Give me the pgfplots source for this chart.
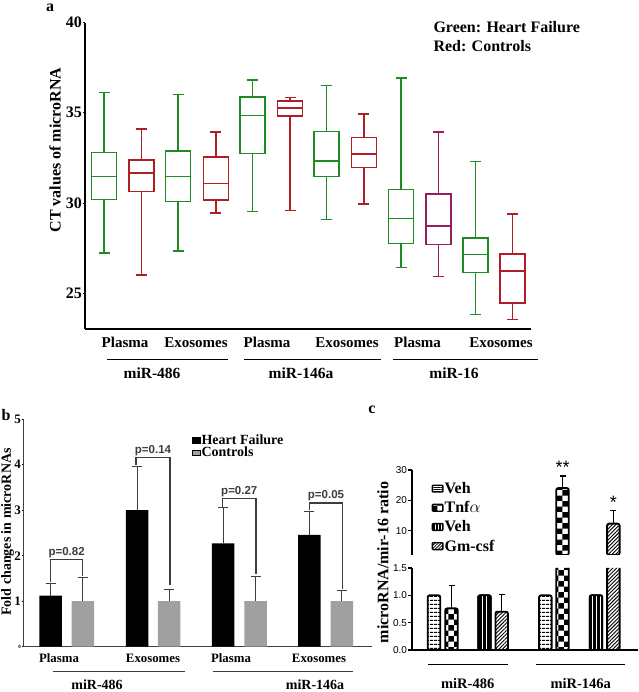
\documentclass[border=0pt]{standalone}
\usepackage{pgfplots}
\pgfplotsset{compat=1.18}
\usepgfplotslibrary{statistics}
\usetikzlibrary{patterns,patterns.meta}
\usepackage{fontspec}
\setmainfont{Liberation Serif}
\newfontfamily\arial{Liberation Sans}
\definecolor{hfgreen}{RGB}{30,140,35}
\definecolor{ctred}{RGB}{175,30,35}
\definecolor{ctpurple}{RGB}{150,30,95}
\definecolor{ctgray}{RGB}{160,160,160}
\definecolor{brk}{RGB}{60,60,60}
\newcommand{\fs}[1]{\fontsize{#1}{#1}\selectfont}
\newcommand{\bx}[7]{\addplot[draw=#1, line width=1.5pt, solid, boxplot prepared={draw position=#2, lower whisker=#3, lower quartile=#4, median=#5, upper quartile=#6, upper whisker=#7}] coordinates {};}
\begin{document}
\begin{tikzpicture}
\useasboundingbox (0,0) rectangle (638pt,692pt);

% ---------------- Panel a ----------------
\begin{axis}[
  at={(85pt,363pt)}, anchor=south west,
  x=1pt, y=18.02pt, xmin=85, xmax=531, ymin=23, ymax=40,
  axis lines*=left, axis line style={line width=1.2pt, black},
  xtick=\empty, ytick={25,30,35,40},
  tick align=outside, major tick length=2pt, tick style={black, line width=0.5pt},
  yticklabel style={font=\fs{16}\bfseries, inner sep=1pt},
  /pgf/number format/assume math mode=true,
  boxplot/draw direction=y, boxplot/box extend=25, boxplot/whisker extend=11,
  boxplot/every box/.style={line width=1.5pt},
  boxplot/every whisker/.style={line width=1.5pt},
  boxplot/every median/.style={line width=1.5pt},
  clip=false,
]
\bx{hfgreen}{104.2}{27.23}{30.19}{31.47}{32.80}{36.12}
\bx{ctred}{141.5}{26.00}{30.63}{31.67}{32.37}{34.11}
\bx{hfgreen}{178.2}{27.33}{30.08}{31.45}{32.87}{36.00}
\bx{ctred}{215.8}{29.45}{30.17}{31.08}{32.55}{33.94}
\bx{hfgreen}{252.7}{29.53}{32.74}{34.86}{35.88}{36.82}
\bx{ctred}{290.0}{29.58}{34.83}{35.25}{35.66}{35.86}
\bx{hfgreen}{326.7}{29.08}{31.46}{32.33}{33.96}{36.51}
\bx{ctred}{363.8}{29.93}{31.96}{32.70}{33.64}{34.92}
\bx{hfgreen}{401.0}{26.42}{27.75}{29.12}{30.74}{36.93}
\bx{ctpurple}{438.3}{25.90}{27.70}{28.71}{30.49}{33.94}
\bx{hfgreen}{475.3}{23.80}{26.14}{27.12}{28.05}{32.30}
\bx{ctred}{512.7}{23.54}{24.44}{26.22}{27.16}{29.38}
\end{axis}

% ---------------- Panel b ----------------
\begin{axis}[
  at={(23pt,45.3pt)}, anchor=south west,
  x=1pt, y=45.5pt, xmin=23, xmax=372, ymin=0, ymax=5,
  axis lines*=left, axis line style={line width=0.9pt, black!75},
  xtick=\empty, ytick={0,1,2,3,4,5}, yticklabels=\empty,
  tick align=outside, major tick length=1.5pt, tick style={black, line width=0.5pt},
  clip=false,
  legend image code/.code={\fill[#1] (0pt,-2.6pt) rectangle (8pt,2.6pt);},
  legend cell align=left,
  legend style={at={(axis cs:192,4.69)}, anchor=north west, draw=none, fill=none,
     font=\fs{14}\bfseries, row sep=-0.5pt, inner sep=0pt, nodes={inner sep=1pt}},
]
\addplot[ybar, bar width=22.5, bar shift=0, fill=black, draw=none, forget plot,
  error bars/.cd, y dir=plus, y explicit,
  error bar style={line width=0.9pt, brk}, error mark options={line width=0.9pt, brk, mark size=5pt, rotate=90}]
  coordinates {(50.5,1.12) +- (0,0.27) (137.2,3.00) +- (0,0.96) (223.2,2.27) +- (0,0.78) (309.3,2.46) +- (0,0.52)};
\addplot[ybar, bar width=22.5, bar shift=0, fill=ctgray, draw=none, forget plot,
  error bars/.cd, y dir=plus, y explicit,
  error bar style={line width=0.9pt, brk}, error mark options={line width=0.9pt, brk, mark size=5pt, rotate=90}]
  coordinates {(82.8,1.00) +- (0,0.52) (169.2,1.00) +- (0,0.26) (255.5,1.00) +- (0,0.54) (341.8,1.00) +- (0,0.23)};
\addlegendimage{fill=black}
\addlegendentry{Heart Failure}
\addlegendimage{fill=ctgray}
\addlegendentry{Controls}
\draw[brk, line width=1.2pt] (axis cs:50.5,1.43) -- (axis cs:50.5,1.92) -- (axis cs:82.8,1.92) -- (axis cs:82.8,1.56);
\draw[brk, line width=1.2pt] (axis cs:136,3.99) -- (axis cs:136,4.16) -- (axis cs:170,4.16) -- (axis cs:170,1.35);
\draw[brk, line width=1.2pt] (axis cs:222.7,3.08) -- (axis cs:222.7,3.25) -- (axis cs:256,3.25) -- (axis cs:256,1.60);
\draw[brk, line width=1.2pt] (axis cs:309.3,3.01) -- (axis cs:309.3,3.16) -- (axis cs:342.3,3.16) -- (axis cs:342.3,1.27);
\node[font=\arial\fs{11.5}\bfseries, text=brk, anchor=south, inner sep=1.5pt] at (axis cs:66.6,1.92) {p=0.82};
\node[font=\arial\fs{11.5}\bfseries, text=brk, anchor=south, inner sep=1.5pt] at (axis cs:153,4.16) {p=0.14};
\node[font=\arial\fs{11.5}\bfseries, text=brk, anchor=south, inner sep=1.5pt] at (axis cs:239.3,3.25) {p=0.27};
\node[font=\arial\fs{11.5}\bfseries, text=brk, anchor=south, inner sep=1.5pt] at (axis cs:326,3.16) {p=0.05};
\end{axis}

% ---------------- Panel c (lower) ----------------
\begin{axis}[
  at={(411.7pt,42pt)}, anchor=south west,
  x=1pt, y=54.7pt, xmin=411.7, xmax=638, ymin=0, ymax=1.5,
  axis lines*=left, axis line style={line width=2.4pt, black},
  xtick=\empty, ytick={0,0.5,1,1.5},
  tick align=outside, major tick length=3.5pt, tick style={black, line width=1.5pt},
  yticklabel style={font=\arial\fs{10}, inner sep=1pt, /pgf/number format/.cd, fixed, fixed zerofill, precision=1},
  /pgf/number format/assume math mode=true,
  clip mode=individual,
]
\addplot[ybar, bar width=12.5, bar shift=0, draw=black, line width=1.9pt, rounded corners=2pt,
  pattern={Lines[angle=0,distance=4pt,line width=1.4pt]}]
  coordinates {(434,1) (545.3,1)};
\addplot[ybar, bar width=12.5, bar shift=0, draw=black, line width=1.9pt, rounded corners=2pt,
  pattern=checkerboard,
  error bars/.cd, y dir=plus, y explicit,
  error bar style={line width=1.4pt, black, rounded corners=0pt}, error mark options={line width=1.4pt, black, mark size=3pt, rotate=90}]
  coordinates {(451.5,0.76) +- (0,0.42) (562.5,24) +- (0,0)};
\addplot[ybar, bar width=12.5, bar shift=0, draw=black, line width=1.9pt, rounded corners=2pt,
  preaction={fill=black}, pattern={Lines[angle=90,distance=3.8pt,line width=0.9pt]}, pattern color=white]
  coordinates {(484.5,1) (596,1)};
\addplot[ybar, bar width=12.5, bar shift=0, draw=black, line width=1.9pt, rounded corners=2pt,
  pattern={Lines[angle=45,distance=2.6pt,line width=0.9pt]},
  error bars/.cd, y dir=plus, y explicit,
  error bar style={line width=1.4pt, black, rounded corners=0pt}, error mark options={line width=1.4pt, black, mark size=3pt, rotate=90}]
  coordinates {(501.7,0.70) +- (0,0.32) (613.3,12.3) +- (0,0)};
\end{axis}

% ---------------- Panel c (upper) ----------------
\begin{axis}[
  at={(411.7pt,137pt)}, anchor=south west,
  x=1pt, y=3.04pt, xmin=411.7, xmax=638, ymin=2, ymax=30,
  axis x line=none, axis y line*=left, axis line style={line width=2.4pt, black},
  xtick=\empty, ytick={10,20,30},
  tick align=outside, major tick length=3.5pt, tick style={black, line width=1.5pt},
  yticklabel style={font=\arial\fs{10}, inner sep=1pt},
  /pgf/number format/assume math mode=true,
  clip mode=individual,
  legend image code/.code={\draw[#1, draw=black, line width=1.4pt, rounded corners=0.8pt] (0pt,-3.4pt) rectangle (10.5pt,3.4pt);},
  legend cell align=left,
  legend style={at={(axis cs:431.5,26.3)}, anchor=north west, draw=none, fill=none,
     font=\fs{16}\bfseries, row sep=4.5pt, inner sep=0pt, nodes={inner sep=1pt}},
]
\addplot[ybar, bar width=12.5, bar shift=0, draw=black, line width=1.9pt, rounded corners=2pt, forget plot,
  pattern=checkerboard,
  error bars/.cd, y dir=plus, y explicit,
  error bar style={line width=1.4pt, black, rounded corners=0pt}, error mark options={line width=1.4pt, black, mark size=3pt, rotate=90}]
  coordinates {(562.5,24) +- (0,4)};
\addplot[ybar, bar width=12.5, bar shift=0, draw=black, line width=1.9pt, rounded corners=2pt, forget plot,
  pattern={Lines[angle=45,distance=2.6pt,line width=0.9pt]},
  error bars/.cd, y dir=plus, y explicit,
  error bar style={line width=1.4pt, black, rounded corners=0pt}, error mark options={line width=1.4pt, black, mark size=3pt, rotate=90}]
  coordinates {(613.3,12.3) +- (0,4.4)};
\addlegendimage{pattern={Lines[angle=0,distance=2.3pt,line width=0.9pt]}}
\addlegendentry{Veh}
\addlegendimage{pattern=checkerboard}
\addlegendentry{Tnf$\alpha$}
\addlegendimage{preaction={fill=black}, pattern={Lines[angle=90,distance=3pt,line width=0.8pt]}, pattern color=white}
\addlegendentry{Veh}
\addlegendimage{pattern={Lines[angle=45,distance=2.2pt,line width=0.8pt]}}
\addlegendentry{Gm-csf}
\node[font=\arial\fs{18}, anchor=south, inner sep=0pt] at (axis cs:562.5,28.6) {**};
\node[font=\arial\fs{18}, anchor=south, inner sep=0pt] at (axis cs:613.3,17.3) {*};
\end{axis}

% ---------------- Text annotations (pixel coordinates, y downward) ----------------
\begin{scope}[shift={(0,692pt)}, x=1pt, y=-1pt]
\node[font=\fs{16}\bfseries, anchor=base] at (50,11.5) {a};
\node[font=\fs{16}\bfseries, anchor=base west, inner sep=0pt] at (433.3,33) {Green: Heart Failure};
\node[font=\fs{16}\bfseries, anchor=base west, inner sep=0pt] at (433.3,52) {Red: Controls};
\node[font=\fs{16}\bfseries, rotate=90] at (55,150) {CT values of microRNA};
\foreach \xx/\lab in {125/Plasma,196/Exosomes,267/Plasma,347/Exosomes,417.5/Plasma,501/Exosomes}
  \node[font=\fs{15}\bfseries, anchor=base, inner sep=0pt] at (\xx,348) {\lab};
\draw[line width=0.9pt] (107,359) -- (228,359);
\draw[line width=0.9pt] (243.5,359) -- (380.7,359);
\draw[line width=0.9pt] (393,359) -- (537.5,359);
\foreach \xx/\lab in {152/miR-486,301/miR-146a,454/miR-16}
  \node[font=\fs{15.5}\bfseries, anchor=base, inner sep=0pt] at (\xx,378.5) {\lab};
% panel b
\node[font=\fs{16}\bfseries, anchor=base] at (6,421) {b};
\node[font=\fs{14}\bfseries, rotate=90] at (7.5,532) {Fold changes in microRNAs};
\node[font=\fs{13}\bfseries, text=black, anchor=east, inner sep=0pt] at (21,601.2) {1};
\node[font=\fs{13}\bfseries, text=black, anchor=east, inner sep=0pt] at (21,555.7) {2};
\node[font=\fs{13}\bfseries, text=black, anchor=east, inner sep=0pt] at (21,510.2) {3};
\node[font=\fs{13}\bfseries, text=black, anchor=east, inner sep=0pt] at (21,464.7) {4};
\node[font=\fs{13}\bfseries, text=black, anchor=east, inner sep=0pt] at (21,419.2) {5};
\node[font=\fs{5}\bfseries, text=black, anchor=east, inner sep=0pt] at (21,646.7) {0};
\foreach \xx/\lab in {59/Plasma,153/Exosomes,231/Plasma,319/Exosomes}
  \node[font=\fs{12.8}\bfseries, anchor=base, inner sep=0pt] at (\xx,663) {\lab};
\draw[line width=0.9pt, brk] (53,671) -- (185,671);
\draw[line width=0.9pt, brk] (213,671) -- (353,671);
\node[font=\fs{14}\bfseries, anchor=base, inner sep=0pt] at (97,689.5) {miR-486};
\node[font=\fs{14}\bfseries, anchor=base, inner sep=0pt] at (315,689.5) {miR-146a};
% panel c
\node[font=\fs{16}\bfseries, anchor=base] at (372,414) {c};
\node[font=\fs{16}\bfseries, rotate=90] at (383,562.5) {microRNA/mir-16 ratio};
\draw[line width=0.9pt] (427.7,664.3) -- (507.7,664.3);
\draw[line width=0.9pt] (536,664.3) -- (625,664.3);
\node[font=\fs{14.5}\bfseries, anchor=base, inner sep=0pt] at (467.7,688) {miR-486};
\node[font=\fs{14.5}\bfseries, anchor=base, inner sep=0pt] at (580.7,688) {miR-146a};
\end{scope}
\end{tikzpicture}
\end{document}
